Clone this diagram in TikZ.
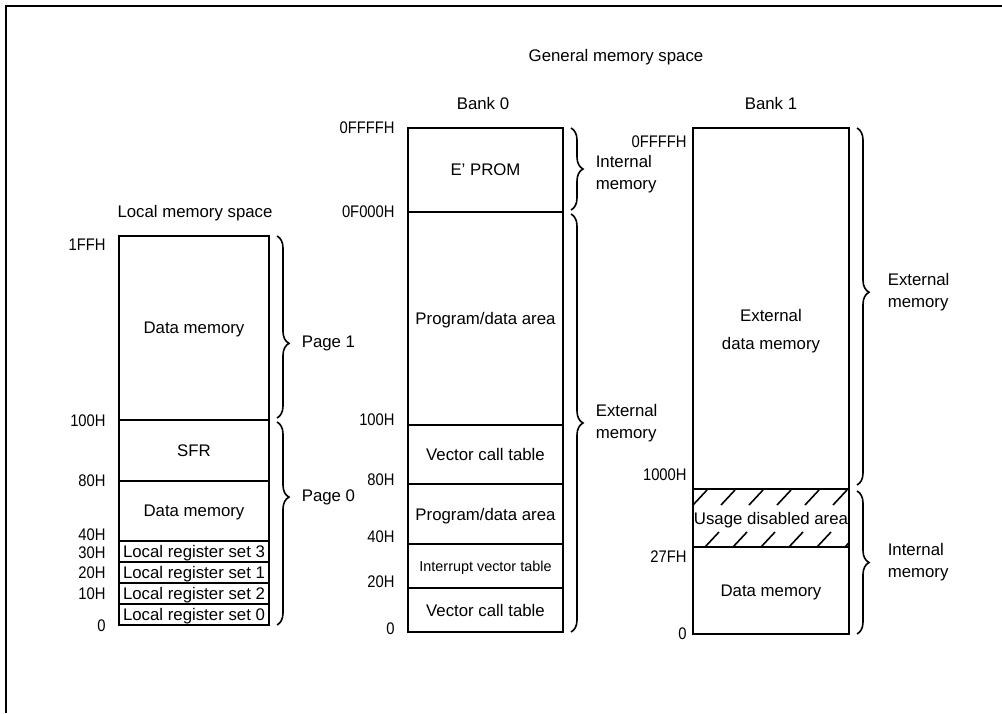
\documentclass[tikz,border=0pt]{standalone}
\usepackage{fontspec}
\setmainfont{Liberation Sans}
\newfontfamily\addrfont[FakeStretch=0.88]{Liberation Sans}
\usetikzlibrary{decorations.pathreplacing, positioning}

\begin{document}
\begin{tikzpicture}[
    x=0.5pt, y=-0.5pt,
    font=\fontsize{8.4}{11}\selectfont,
    region/.style={draw, line width=0.8pt, inner sep=0pt, outer sep=0pt, align=center, text depth=0pt},
    lcol/.style={region, minimum width=75pt},
    mcol/.style={region, minimum width=77.5pt},
    rcol/.style={region, minimum width=78pt},
    addr/.style={anchor=east, inner sep=0pt, font=\addrfont\fontsize{8.4}{10}\selectfont},
    brace/.style={decorate, decoration={brace, amplitude=6pt, aspect=#1}, line width=0.8pt},
    brace/.default=0.5,
    side/.style={right=12pt, inner sep=0pt, align=left},
    hatch/.style={line width=0.8pt}
  ]
  \useasboundingbox (0,0) rectangle (1002,713);
  \draw[line width=1pt] (6,713) -- (6,6) -- (1002,6);

  % titles
  \node (gms) at (616,57) {General memory space};
  \node (lms) at (195,213) {Local memory space};
  \node (bank0) at (483,103) {Bank 0};
  \node (bank1) at (771,103) {Bank 1};

  % local memory space
  \node[lcol, minimum height=92pt] (ldata1) at (194,328) {Data memory};
  \node[lcol, minimum height=30.5pt] (sfr) at (194,450.5) {SFR};
  \node[lcol, minimum height=30pt] (ldata0) at (194,511) {Data memory};
  \node[lcol, minimum height=10.5pt] (reg3) at (194,551.5) {Local register set 3};
  \node[lcol, minimum height=10.5pt] (reg1) at (194,572.5) {Local register set 1};
  \node[lcol, minimum height=10.5pt] (reg2) at (194,593.5) {Local register set 2};
  \node[lcol, minimum height=10.5pt] (reg0) at (194,614.5) {Local register set 0};

  \node[addr] (la1ff) at (106,245) {1FFH};
  \node[addr] (la100) at (106,421) {100H};
  \node[addr] (la80) at (106,481) {80H};
  \node[addr] (la40) at (106,535) {40H};
  \node[addr] (la30) at (106,553) {30H};
  \node[addr] (la20) at (106,573) {20H};
  \node[addr] (la10) at (106,594) {10H};
  \node[addr] (la0) at (106,626) {0};

  \draw[brace=0.59] ([xshift=4pt]ldata1.north east) -- ([xshift=4pt, yshift=1pt]ldata1.south east)
    node[side, pos=0.59] (page1) {Page 1};
  \draw[brace=0.37] ([xshift=4pt, yshift=-1pt]sfr.north east) -- ([xshift=4pt]reg0.south east)
    node[side, pos=0.37] (page0) {Page 0};

  % bank 0
  \node[mcol, minimum height=42pt] (eprom) at (485.5,170) {E’ PROM};
  \node[mcol, minimum height=106.5pt] (prog1) at (485.5,318.5) {Program/data area};
  \node[mcol, minimum height=29.5pt] (vct1) at (485.5,454.5) {Vector call table};
  \node[mcol, minimum height=30pt] (prog0) at (485.5,514) {Program/data area};
  \node[mcol, minimum height=22pt, font=\fontsize{7.2}{9}\selectfont] (ivt) at (485.5,566) {Interrupt vector table};
  \node[mcol, minimum height=22pt] (vct0) at (485.5,610) {Vector call table};

  \node[addr] (mafffff) at (395,128) {0FFFFH};
  \node[addr] (maf000) at (395,212) {0F000H};
  \node[addr] (ma100) at (395,420) {100H};
  \node[addr] (ma80) at (395,480) {80H};
  \node[addr] (ma40) at (395,537) {40H};
  \node[addr] (ma20) at (395,582) {20H};
  \node[addr] (ma0) at (395,629) {0};

  \draw[brace] ([xshift=4pt]eprom.north east) -- ([xshift=4pt, yshift=1pt]eprom.south east)
    node[side, midway, yshift=-2.5pt] (mint) {Internal\\memory};
  \draw[brace] ([xshift=4pt, yshift=-1pt]prog1.north east) -- ([xshift=4pt]vct0.south east)
    node[side, midway] (mext) {External\\memory};

  % bank 1
  \node[rcol, minimum height=180.5pt] (extdata) at (771,308.5) {};
  \node[align=center] (extdatatext) at (771,331) {External\\[3pt]data memory};
  \node[rcol, minimum height=29pt] (disabled) at (771,518) {Usage disabled area};
  \node[rcol, minimum height=43.5pt] (idata) at (771,590.5) {Data memory};
  \begin{scope}
    \clip (disabled.north west) rectangle (disabled.south east);
    \foreach \x in {693,721,...,833} \draw[hatch] (\x,505) -- ++(14,-15);
    \foreach \x in {705,733,...,845} \draw[hatch] (\x,547) -- ++(14,-15);
  \end{scope}

  \node[addr] (rafffff) at (687,142) {0FFFFH};
  \node[addr] (ra1000) at (687,475) {1000H};
  \node[addr] (ra27f) at (687,557) {27FH};
  \node[addr] (ra0) at (687,634) {0};

  \draw[brace=0.46] ([xshift=4pt]extdata.north east) -- ([xshift=4pt, yshift=2pt]extdata.south east)
    node[side, pos=0.46, right=15pt] (rext) {External\\memory};
  \draw[brace] ([xshift=4pt, yshift=-1pt]disabled.north east) -- ([xshift=4pt]idata.south east)
    node[side, midway, right=15pt] (rint) {Internal\\memory};
\end{tikzpicture}
\end{document}
